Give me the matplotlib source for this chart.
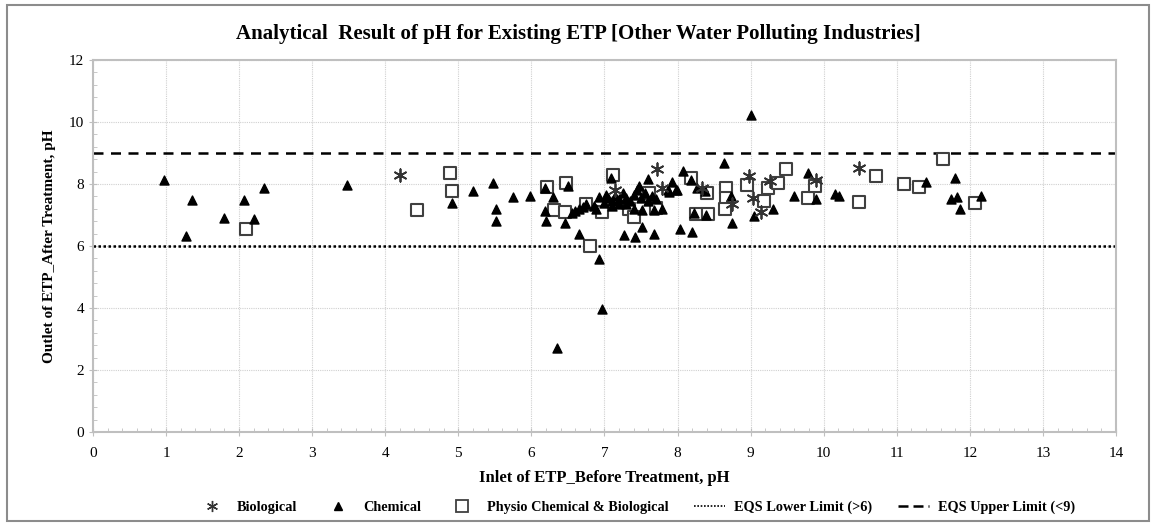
import numpy as np
import matplotlib.pyplot as plt
from matplotlib.patches import Rectangle
from matplotlib.lines import Line2D
from matplotlib.ticker import MultipleLocator

plt.rcParams['font.family'] = ['Liberation Serif', 'DejaVu Serif']

# Biological
bio_x = [4.20, 7.15, 7.72, 7.79, 8.33, 8.75, 8.98, 9.03, 9.14, 9.27, 9.90, 10.48]
bio_y = [8.28, 7.81, 8.47, 7.88, 7.88, 7.35, 8.26, 7.56, 7.11, 8.10, 8.13, 8.51]

# Chemical
chem_x = [0.97, 1.27, 1.35, 1.80, 2.07, 2.21, 2.34, 3.48,
          4.92, 5.20, 5.47, 5.52, 5.52, 5.75, 5.98,
          6.19, 6.30, 6.19, 6.20, 6.50, 6.46, 6.65,
          6.55, 6.60, 6.65, 6.70, 6.75, 6.92, 6.93, 6.97, 6.35,
          7.09, 7.27, 7.42, 7.68, 7.52,
          7.00, 7.05, 7.10, 7.15, 7.20, 7.25, 7.30, 7.35, 7.40, 7.45, 7.47, 7.50,
          7.55, 7.59, 7.60, 7.65, 7.68, 7.70, 7.79, 7.10, 7.20, 7.30, 7.40, 7.02, 7.51,
          6.85, 6.88, 7.87, 7.98,
          7.93, 7.88, 7.99, 8.07, 8.18, 8.27, 8.38, 8.63, 8.73, 8.75, 8.22, 8.39, 8.04, 8.20,
          9.00, 9.04, 9.30, 9.59, 9.79, 9.90, 10.16, 10.21,
          11.40, 11.79, 11.74, 11.83, 11.86, 12.15]
chem_y = [8.12, 6.33, 7.48, 6.91, 7.48, 6.87, 7.86, 7.97,
          7.38, 7.78, 8.04, 7.19, 6.82, 7.58, 7.62,
          7.86, 7.58, 7.12, 6.82, 7.94, 6.73, 6.39,
          7.05, 7.12, 7.18, 7.25, 7.35, 7.58, 5.57, 3.97, 2.70,
          8.19, 6.35, 6.30, 6.39, 6.60,
          7.40, 7.55, 7.45, 7.60, 7.50, 7.70, 7.55, 7.45, 7.65, 7.80, 7.94, 7.55,
          7.70, 8.15, 7.45, 7.60, 7.16, 7.50, 7.20, 7.30, 7.35, 7.35, 7.20, 7.65, 7.16,
          7.30, 7.20, 7.81, 7.81,
          8.07, 7.75, 7.81, 8.43, 8.12, 7.86, 7.78, 8.67, 7.60, 6.75, 7.06, 7.00, 6.55, 6.44,
          10.23, 6.98, 7.18, 7.61, 8.34, 7.51, 7.67, 7.61,
          8.07, 8.18, 7.51, 7.59, 7.18, 7.61]

# Physio Chemical & Biological
phys_x = [2.09, 4.44, 4.88, 4.92, 6.21, 6.31, 6.47, 6.46, 6.75, 6.80, 6.96,
          7.11, 7.34, 7.41, 7.61, 7.71, 8.19, 8.40, 8.25, 8.41, 8.66, 8.66, 8.65,
          8.95, 9.18, 9.24, 9.38, 9.48, 9.78, 9.88, 10.48, 10.72, 11.10, 11.30,
          11.63, 12.07]
phys_y = [6.54, 7.16, 8.34, 7.78, 7.91, 7.15, 8.02, 7.10, 7.35, 6.01, 7.11,
          8.29, 7.18, 6.95, 7.70, 7.22, 8.18, 7.72, 7.02, 7.03, 7.86, 7.54, 7.19,
          7.97, 7.46, 7.86, 8.02, 8.47, 7.54, 7.94, 7.42, 8.26, 8.00, 7.91,
          8.80, 7.38]

eqs_lower = 6
eqs_upper = 9

fig = plt.figure(figsize=(11.56, 5.24), dpi=100)
ax = fig.add_axes([0.0804, 0.1756, 0.885, 0.71])

# rand rond de figuur
fig.patches.append(Rectangle((0.006, 0.006), 0.988, 0.985, transform=fig.transFigure,
                             fill=False, edgecolor='#8c8c8c', linewidth=1.5))

ax.axhline(eqs_lower, color='black', linestyle=(0, (1, 1)), linewidth=1.8, zorder=2)
ax.axhline(eqs_upper, color='black', linestyle=(0, (4, 3)), linewidth=1.8, zorder=2)

ax.scatter(phys_x, phys_y, marker='s', s=80, facecolors='white', edgecolors='#404040',
           linewidths=1.5, zorder=3)
ax.scatter(chem_x, chem_y, marker='^', s=42, color='black', zorder=4)
ax.scatter(bio_x, bio_y, marker=(6, 2, 0), s=80, color='#333333', linewidths=1.3, zorder=5)

ax.set_xlim(0, 14)
ax.set_ylim(0, 12)
ax.xaxis.set_major_locator(MultipleLocator(1))
ax.xaxis.set_minor_locator(MultipleLocator(0.2))
ax.yaxis.set_major_locator(MultipleLocator(2))
ax.yaxis.set_minor_locator(MultipleLocator(0.4))
ax.grid(True, which='major', color='#d0d0d0', linestyle=(0, (1, 1)), linewidth=0.8)
ax.set_axisbelow(True)
for s in ax.spines.values():
    s.set_color('#bfbfbf')
    s.set_linewidth(1.5)
ax.tick_params(which='major', direction='inout', length=6, color='#bfbfbf', labelsize=11)
ax.tick_params(which='minor', direction='in', length=3, color='#bfbfbf')
ax.tick_params(axis='x', pad=8)

ax.set_xlabel('Inlet of ETP_Before Treatment, pH', fontweight='bold', fontsize=12, labelpad=7)
ax.set_ylabel('Outlet of ETP_After Treatment, pH', fontweight='bold', fontsize=11, labelpad=9)
fig.suptitle('Analytical  Result of pH for Existing ETP [Other Water Polluting Industries]',
             fontweight='bold', fontsize=15, y=0.955)

handles = [
    Line2D([], [], marker=(6, 2, 0), color='#333333', linestyle='none', markersize=8),
    Line2D([], [], marker='^', color='black', linestyle='none', markersize=6),
    Line2D([], [], marker='s', markerfacecolor='white', markeredgecolor='#404040',
           linestyle='none', markersize=8, markeredgewidth=1.3),
    Line2D([], [], color='black', linestyle=(0, (1, 1)), linewidth=1.2),
    Line2D([], [], color='black', linestyle=(0, (4, 2)), linewidth=1.8),
]
labels = ['Biological', 'Chemical', 'Physio Chemical & Biological',
          'EQS Lower Limit (>6)', 'EQS Upper Limit (<9)']
fig.legend(handles, labels, loc='center', bbox_to_anchor=(0.55, 0.032), ncol=5,
           frameon=False, prop={'weight': 'bold', 'size': 10.3},
           handlelength=2.2, columnspacing=1.8, handletextpad=0.6)

fig.savefig('out.png', dpi=100)
